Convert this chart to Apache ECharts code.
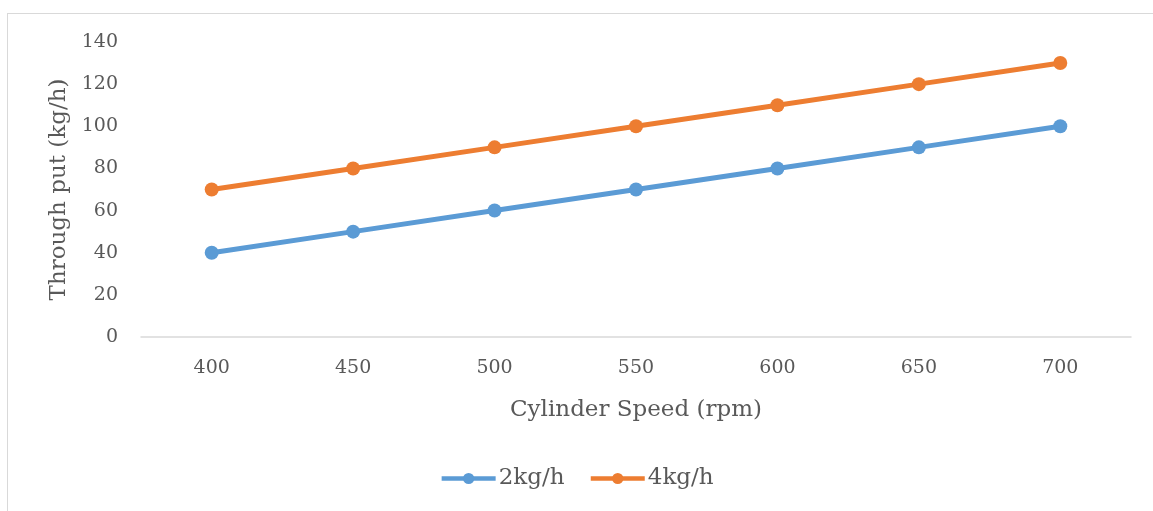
<!DOCTYPE html>
<html><head><meta charset="utf-8">
<script src="https://cdn.jsdelivr.net/npm/echarts@6/dist/echarts.min.js"></script>
<style>
html,body{margin:0;padding:0;background:#fff;}
#frame{position:absolute;left:7px;top:13px;width:1200px;height:600px;border-left:1px solid #d9d9d9;border-top:1px solid #d9d9d9;}
#c{position:absolute;left:0;top:0;width:1153px;height:511px;}
</style></head>
<body>
<div id="frame"></div>
<div id="c"></div>
<script>
const categories = ['400','450','500','550','600','650','700'];
const series2 = [40,50,60,70,80,90,100];
const series4 = [70,80,90,100,110,120,130];
const seriesNames = ['2kg/h','4kg/h'];
const FONT = 'DejaVu Serif';
const chart = echarts.init(document.getElementById('c'));
chart.setOption({
  animation:false,
  color:['#5B9BD5','#ED7D31'],
  grid:{left:141,right:22,top:42,bottom:174,containLabel:false},
  legend:{bottom:16,left:'center',itemWidth:54,itemHeight:14,itemGap:24,
    lineStyle:{width:4.5},
    textStyle:{fontFamily:FONT,fontSize:23,color:'#595959',padding:[0,0,0,-2]},
    data:seriesNames},
  xAxis:{type:'category',data:categories,boundaryGap:true,
    name:'Cylinder Speed (rpm)',nameLocation:'middle',nameGap:62,
    nameTextStyle:{fontFamily:FONT,fontSize:23,color:'#595959'},
    axisLine:{lineStyle:{color:'#d9d9d9',width:1.5}},axisTick:{show:false},
    axisLabel:{fontFamily:FONT,fontSize:19,color:'#595959',margin:22}},
  yAxis:{type:'value',min:0,max:140,interval:20,
    name:'Through put (kg/h)',nameLocation:'middle',nameGap:70,
    nameTextStyle:{fontFamily:FONT,fontSize:23,color:'#595959'},
    splitLine:{show:false},axisLine:{show:false},axisTick:{show:false},
    axisLabel:{fontFamily:FONT,fontSize:19,color:'#595959',margin:23}},
  series:[
    {name:seriesNames[0],type:'line',data:series2,symbol:'circle',symbolSize:14,lineStyle:{width:5}},
    {name:seriesNames[1],type:'line',data:series4,symbol:'circle',symbolSize:14,lineStyle:{width:5}}
  ]
});
</script>
</body></html>
